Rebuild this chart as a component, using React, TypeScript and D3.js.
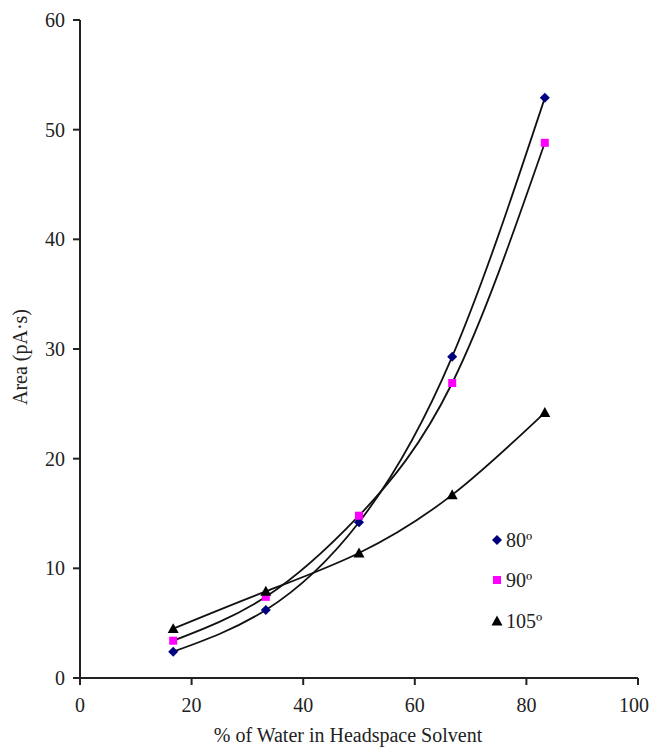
import React from "react";
import * as d3 from "d3";

const waterPct = [16.7, 33.3, 50, 66.7, 83.3];
const area80 = [2.4, 6.2, 14.2, 29.3, 52.9];
const area90 = [3.4, 7.4, 14.8, 26.9, 48.8];
const area105 = [4.5, 7.9, 11.4, 16.7, 24.2];
const seriesNames = ["80º", "90º", "105º"];
const xTicks = [0, 20, 40, 60, 80, 100];
const yTicks = [0, 10, 20, 30, 40, 50, 60];

const W = 651;
const H = 747;
const font = "'Liberation Serif', 'Times New Roman', serif";

export default function App() {
  const x = d3.scaleLinear().domain([0, 100]).range([80, 638]);
  const y = d3.scaleLinear().domain([0, 60]).range([678, 20]);
  const line = d3
    .line<[number, number]>()
    .x((d) => x(d[0]))
    .y((d) => y(d[1]))
    .curve(d3.curveNatural);

  const series = [
    { name: seriesNames[0], vals: area80, color: "#00007f", shape: "diamond" },
    { name: seriesNames[1], vals: area90, color: "#ff00ff", shape: "square" },
    { name: seriesNames[2], vals: area105, color: "#000000", shape: "triangle" },
  ];

  const marker = (shape: string, cx: number, cy: number, color: string, key: string) => {
    if (shape === "diamond") {
      const s = 5;
      return (
        <path key={key} d={`M${cx},${cy - s}L${cx + s},${cy}L${cx},${cy + s}L${cx - s},${cy}Z`} fill={color} />
      );
    }
    if (shape === "square") {
      const s = 4;
      return <rect key={key} x={cx - s} y={cy - s} width={2 * s} height={2 * s} fill={color} />;
    }
    const s = 5.5;
    return (
      <path key={key} d={`M${cx},${cy - s}L${cx + s},${cy + s * 0.8}L${cx - s},${cy + s * 0.8}Z`} fill={color} />
    );
  };

  const legendY = [540, 580, 621];

  return (
    <svg width={W} height={H} style={{ position: "absolute", left: 0, top: 0, background: "#fff" }}>
      {/* axes */}
      <line x1={x(0)} x2={x(0)} y1={y(60)} y2={y(0)} stroke="#222" strokeWidth={2} />
      <line x1={x(0)} x2={x(100)} y1={y(0)} y2={y(0)} stroke="#222" strokeWidth={2} />
      {yTicks.map((t) => (
        <g key={"y" + t}>
          <line x1={x(0) - 7} x2={x(0)} y1={y(t)} y2={y(t)} stroke="#222" strokeWidth={2} />
          <text x={x(0) - 15} y={y(t)} dy="0.35em" textAnchor="end" fontFamily={font} fontSize={20} fill="#222">
            {t}
          </text>
        </g>
      ))}
      {xTicks.map((t) => (
        <g key={"x" + t}>
          <line x1={x(t)} x2={x(t)} y1={y(0)} y2={y(0) + 7} stroke="#222" strokeWidth={2} />
          <text
            x={Math.min(x(t), W - 17)}
            y={y(0) + 27}
            dy="0.35em"
            textAnchor="middle"
            fontFamily={font}
            fontSize={20}
            fill="#222"
          >
            {t}
          </text>
        </g>
      ))}
      <text
        transform={`translate(27,357) rotate(-90)`}
        textAnchor="middle"
        fontFamily={font}
        fontSize={20}
        fill="#222"
      >
        Area (pA·s)
      </text>
      <text x={348} y={742} textAnchor="middle" fontFamily={font} fontSize={20} fill="#222">
        % of Water in Headspace Solvent
      </text>

      {/* curves */}
      {series.map((s) => (
        <path
          key={"l" + s.name}
          d={line(waterPct.map((w, i) => [w, s.vals[i]] as [number, number])) || ""}
          fill="none"
          stroke="#111"
          strokeWidth={1.8}
        />
      ))}
      {series.map((s) => waterPct.map((w, i) => marker(s.shape, x(w), y(s.vals[i]), s.color, s.name + i)))}

      {/* legend */}
      {series.map((s, i) => (
        <g key={"lg" + s.name}>
          {marker(s.shape, 497, legendY[i], s.color, "lgm" + i)}
          <text x={506} y={legendY[i]} dy="0.35em" fontFamily={font} fontSize={20} fill="#222">
            {s.name}
          </text>
        </g>
      ))}
    </svg>
  );
}
